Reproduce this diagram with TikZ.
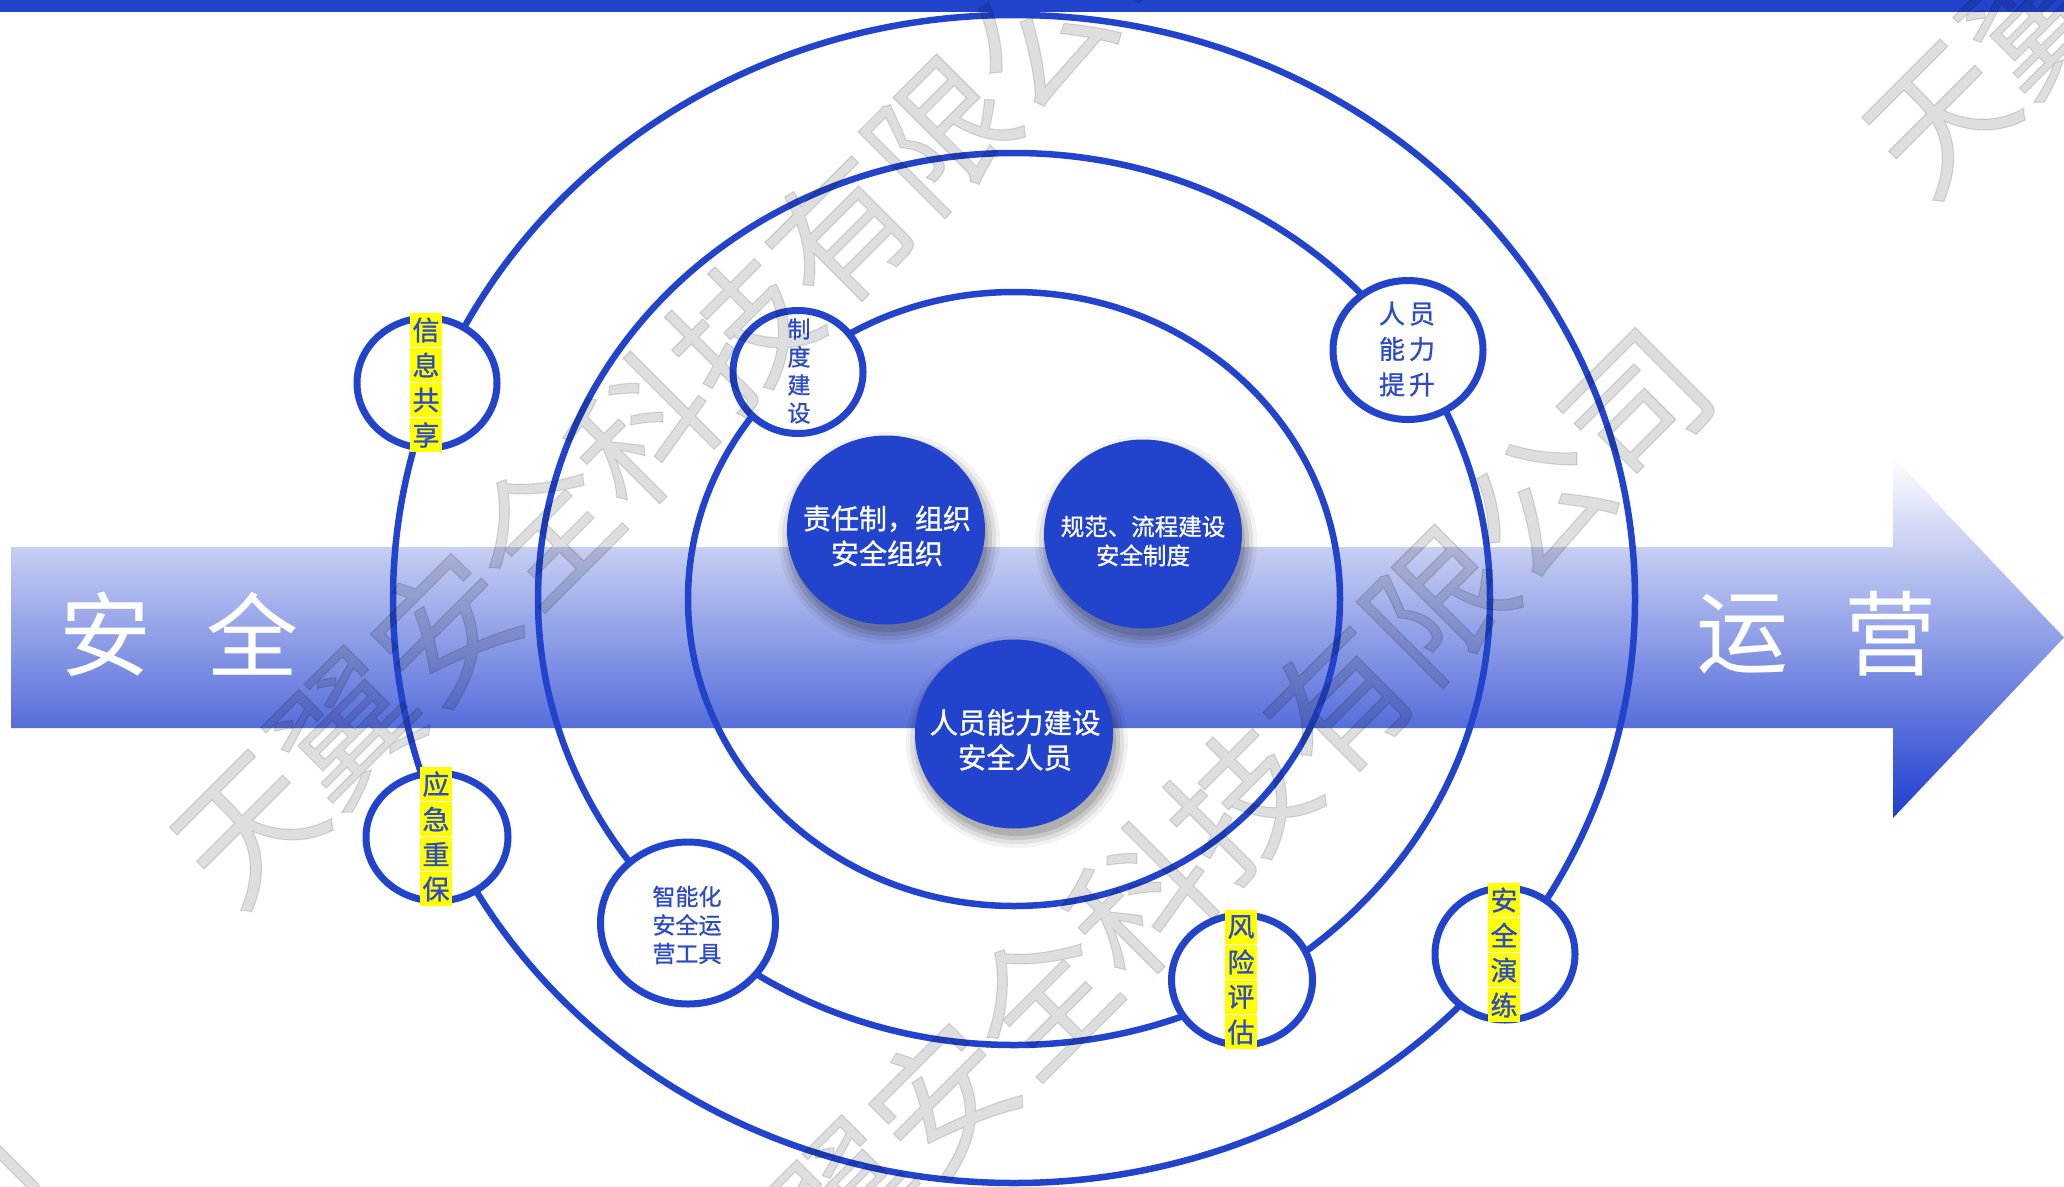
\documentclass[tikz,border=0pt]{standalone}
\usepackage{fontspec}
\setmainfont{Noto Sans CJK SC}
\newfontfamily\cjk{Noto Sans CJK SC}
\newfontfamily\cjkmed[FakeBold=1]{Noto Sans CJK SC}
\newfontfamily\cjkwm[FakeBold=0.8]{Noto Sans CJK SC}
\usetikzlibrary{shapes.geometric}
\definecolor{mblue}{HTML}{2244CC}
\definecolor{tblue}{HTML}{2D4BC8}
\definecolor{barnavy}{HTML}{14287C}
\definecolor{arrowbot}{HTML}{1E3DCF}
\definecolor{ylw}{HTML}{FFFF00}
\tikzset{
  ring/.style={ellipse, draw=mblue, line width=7pt, fill=white, inner sep=0pt},
  orbit/.style={draw=mblue, line width=6.5pt},
  bluedot/.style={ellipse, fill=mblue, inner sep=0pt, minimum width=198pt, minimum height=189pt},
  dottext/.style={text=white, align=center, inner sep=0pt},
  ybox/.style={fill=ylw, text=tblue, minimum width=32pt, minimum height=34pt, inner sep=0pt, font=\cjkmed\fontsize{27}{27}\selectfont},
  ringtext/.style={text=tblue, align=center, inner sep=0pt},
  biglabel/.style={text=white, font=\cjk\fontsize{92}{92}\selectfont, inner sep=0pt},
  wm/.style={rotate=45, text=black, text opacity=0.13, font=\cjkwm\fontsize{140}{140}\selectfont, inner sep=0pt},
}
\newcommand\shadowfor[2]{%
  \foreach \s/\o in {12/0.05,8/0.08,4/0.10,0/0.12}
    \fill[black, opacity=\o] (#1+3,#2+8) ellipse [x radius={99+\s}, y radius={94+\s}];}
\begin{document}
\begin{tikzpicture}[x=1pt,y=-1pt]
\fill[white] (0,0) rectangle (2064,1186);
\useasboundingbox (0,0) rectangle (2064,1186);
% top bar
\shade[left color=mblue, middle color=barnavy, right color=mblue] (0,0) rectangle (2064,11);
% big arrow
\shade[top color=white, bottom color=arrowbot] (11,547) -- (1893,547) -- (1893,457) -- (2064,637.5) -- (1893,818) -- (1893,728) -- (11,728) -- cycle;
\node[biglabel] (lblA) at (105,634) {安};
\node[biglabel] (lblB) at (252,634) {全};
\node[biglabel] (lblC) at (1742,634) {运};
\node[biglabel] (lblD) at (1890,634) {营};
% orbits
\coordinate (ctr) at (1014,599);
\draw[orbit] (ctr) ellipse [x radius=621, y radius=584];
\draw[orbit] (ctr) ellipse [x radius=476, y radius=446];
\draw[orbit] (ctr) ellipse [x radius=326, y radius=307];
% small rings
\node[ring, minimum width=140pt, minimum height=130pt] (ringA) at (427,383) {};
\node[ring, minimum width=130pt, minimum height=123pt] (ringB) at (798,372) {};
\node[ring, minimum width=150pt, minimum height=139pt] (ringC) at (1408,350) {};
\node[ring, minimum width=142pt, minimum height=128pt] (ringD) at (437,837) {};
\node[ring, minimum width=175pt, minimum height=162pt] (ringE) at (688,923) {};
\node[ring, minimum width=141pt, minimum height=130pt] (ringF) at (1242,980) {};
\node[ring, minimum width=140pt, minimum height=132pt] (ringG) at (1505,954) {};
% yellow columns
\foreach \c [count=\i] in {信,息,共,享}
  \node[ybox] (yA\i) at (426,{313+17+(\i-1)*35}) {\c};
\foreach \c [count=\i] in {应,急,重,保}
  \node[ybox] (yD\i) at (436,{767+17+(\i-1)*35}) {\c};
\foreach \c [count=\i] in {风,险,评,估}
  \node[ybox] (yF\i) at (1241,{910+17+(\i-1)*35}) {\c};
\foreach \c [count=\i] in {安,全,演,练}
  \node[ybox] (yG\i) at (1504,{883+17+(\i-1)*35}) {\c};
% ring texts
\node[ringtext, font=\cjkmed\fontsize{23}{28}\selectfont] (tB) at (799,371) {制\\度\\建\\设};
\node[ringtext, font=\cjkmed\fontsize{26}{35.5}\selectfont] (tC) at (1407,349) {人\hspace{4pt}员\\能\hspace{4pt}力\\提\hspace{4pt}升};
\node[ringtext, font=\cjkmed\fontsize{23}{28.5}\selectfont] (tE) at (687,925) {智能化\\安全运\\营工具};
% blue dots
\shadowfor{886}{530}
\shadowfor{1143}{534}
\shadowfor{1014}{734}
\node[bluedot] (dotA) at (886,530) {};
\node[bluedot] (dotB) at (1143,534) {};
\node[bluedot] (dotC) at (1014,734) {};
\node[dottext, font=\cjkmed\fontsize{28}{35}\selectfont] (dA) at (887,536) {责任制，组织\\安全组织};
\node[dottext, font=\cjkmed\fontsize{23.5}{29}\selectfont] (dB) at (1143,541) {规范、流程建设\\安全制度};
\node[dottext, font=\cjkmed\fontsize{28.5}{35}\selectfont] (dC) at (1015,740) {人员能力建设\\安全人员};
% watermarks
\node[wm] (wm1) at (692,380) {天翼安全科技有限公司};
\node[wm] (wm2) at (1190,850) {天翼安全科技有限公司};
\node[wm] (wm3) at (2384,-330) {天翼安全科技有限公司};
\node[wm] (wm4) at (-484,1629) {天翼安全科技有限公司};
\end{tikzpicture}
\end{document}
